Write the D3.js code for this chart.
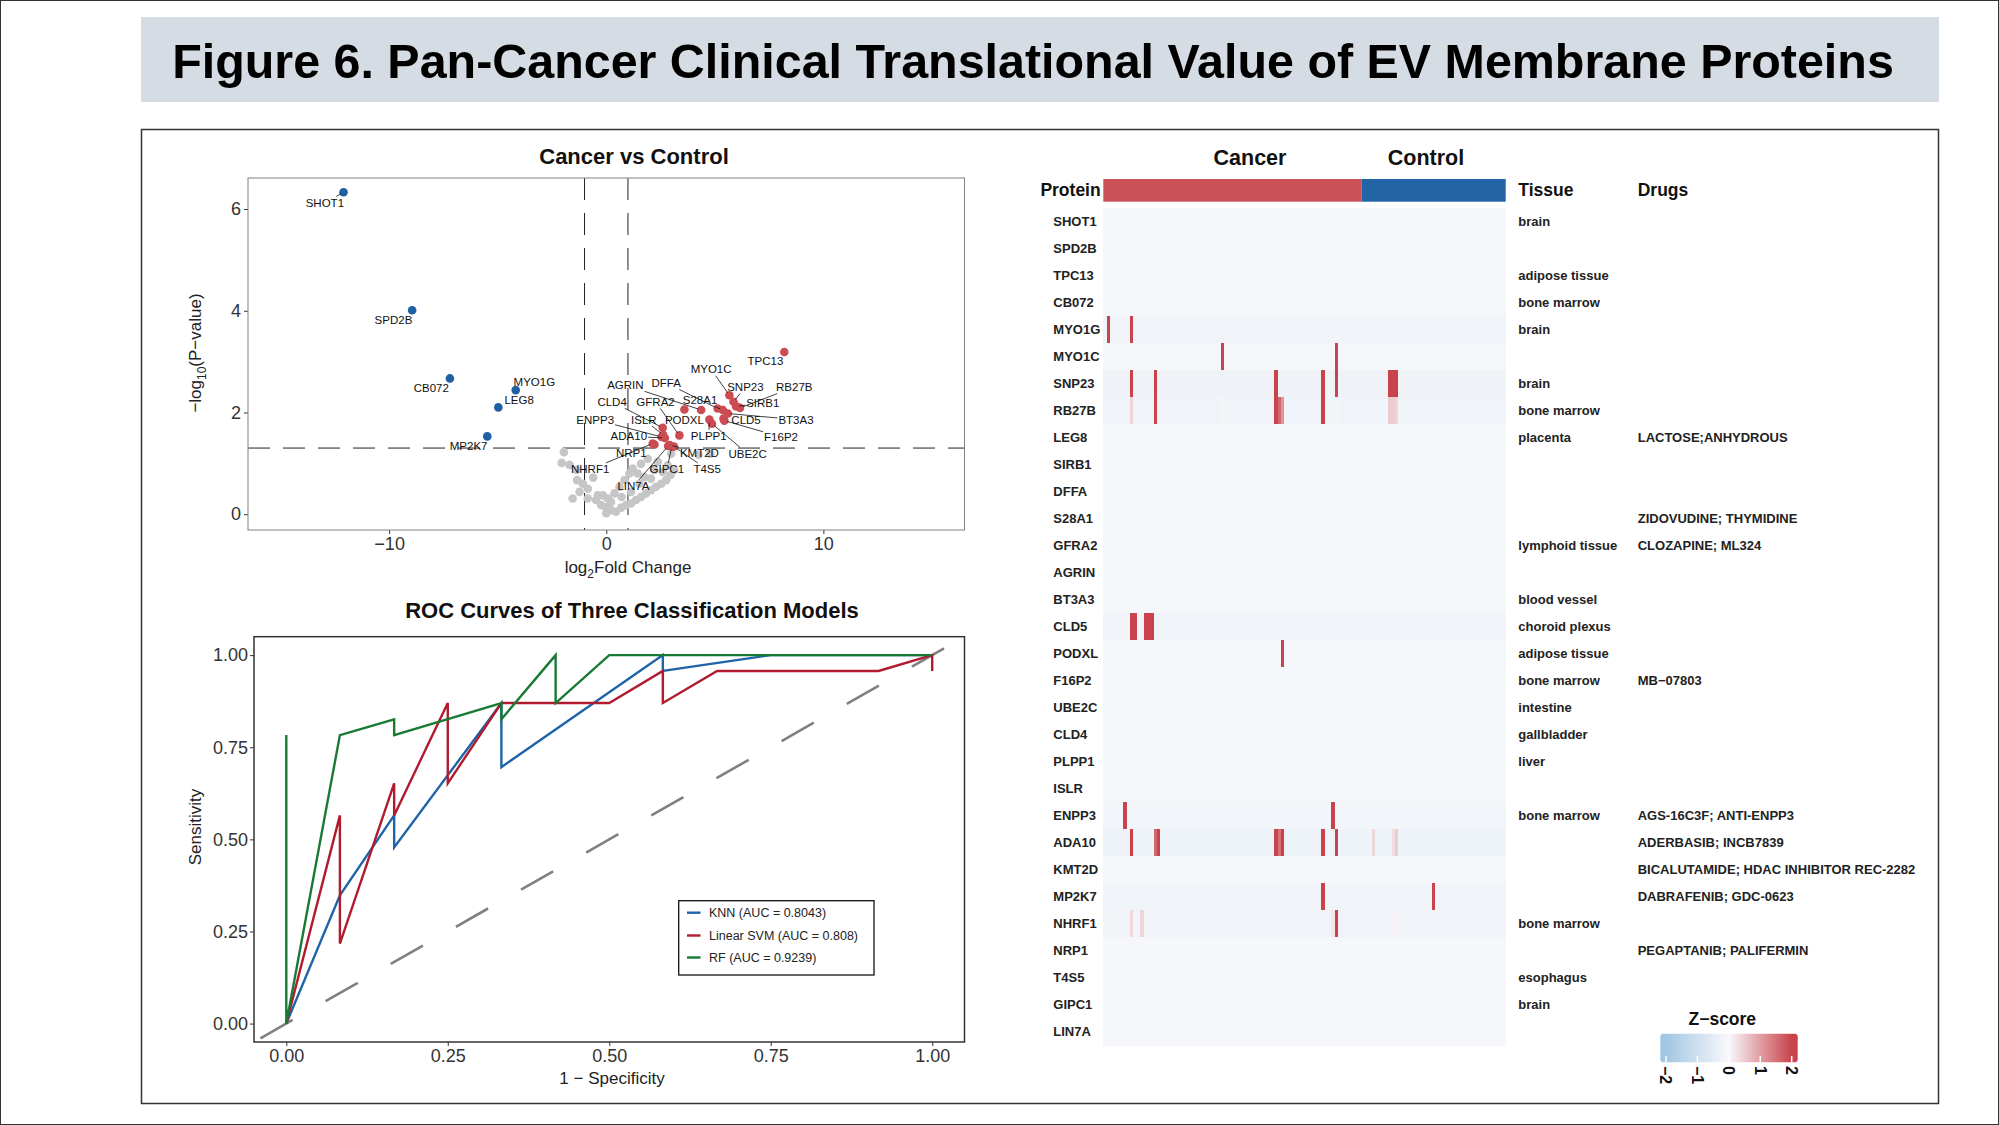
<!DOCTYPE html>
<html>
<head>
<meta charset="utf-8">
<script src="https://cdn.jsdelivr.net/npm/d3@7"></script>
<style>
  body { margin: 0; background: #fff; }
  svg { display: block; font-family: 'Liberation Sans', Arial, Helvetica, sans-serif; }
</style>
</head>
<body>
<svg width="1999" height="1125"></svg>
<script>
// ---------------- data ----------------
// volcano: significant proteins (log2 fold change, -log10 p)
const sigNames = ['SHOT1','SPD2B','CB072','MYO1G','LEG8','MP2K7','TPC13','MYO1C','SNP23','SIRB1','RB27B','S28A1',
  'DFFA','AGRIN','PODXL','BT3A3','CLD5','F16P2','PLPP1','UBE2C','CLD4','GFRA2','ISLR','ENPP3','ADA10','NHRF1',
  'NRP1','KMT2D','LIN7A','GIPC1','T4S5']
const sigFC = [-12.1,-8.94,-7.2,-4.17,-4.97,-5.48,8.2,5.67,5.86,5.98,6.16,5.37,
  5.13,4.37,3.6,5.6,5.4,5.44,4.75,4.87,2.6,3.37,2.62,2.55,2.7,2.14,
  2.22,2.92,2.85,3.02,3.12]
const sigLogP = [6.33,4.01,2.67,2.44,2.1,1.53,3.19,2.34,2.21,2.12,2.09,2.05,
  2.08,2.05,2.06,1.98,1.88,1.84,1.86,1.78,1.7,1.55,1.56,1.52,1.5,1.39,
  1.37,1.36,1.34,1.33,1.33]
// volcano: non-significant proteins
const nsFC = [-1.95,-2.05,-1.69,-1.34,-1.08,-1.23,-0.85,-0.47,-0.24,-0.01,0.22,0.45,0.69,0.91,1.14,1.37,1.6,1.83,
  2.06,2.29,2.53,2.76,2.96,3.14,2.83,2.37,1.91,1.6,1.22,1.07,0.84,0.61,0.38,0.07,-0.16,0.71,1.14,1.53,1.76,
  2.22,2.61,2.06,1.45,-1.38,-0.85,-0.39,0.22,2.99,4.25,4.8,-0.6,-1.55,0.0]
const nsLogP = [1.22,1.01,0.97,0.67,0.6,0.44,0.31,0.28,0.18,0.14,0.08,0.05,0.13,0.18,0.21,0.28,0.34,0.41,
  0.47,0.54,0.6,0.67,0.77,0.87,0.96,1.03,1.09,0.99,0.9,0.8,0.67,0.54,0.41,0.31,0.37,0.34,0.44,0.6,0.73,
  0.87,0.83,0.7,0.8,0.87,0.5,0.37,0.24,1.19,1.17,1.19,0.72,0.31,0.02]

// ROC curves (1 - specificity, sensitivity)
const knnFpr = [0,0.083,0.167,0.167,0.333,0.333,0.583,0.583,0.75,1]
const knnTpr = [0,0.348,0.565,0.478,0.87,0.696,1,0.957,1,1]
const svmFpr = [0,0.083,0.083,0.167,0.167,0.25,0.25,0.333,0.5,0.583,0.583,0.667,0.917,1,1]
const svmTpr = [0,0.565,0.217,0.652,0.565,0.87,0.652,0.87,0.87,0.957,0.87,0.957,0.957,1,0.957]
const rfFpr = [0,0,0,0.083,0.167,0.167,0.333,0.333,0.417,0.417,0.5,1]
const rfTpr = [0,0.783,0,0.783,0.826,0.783,0.87,0.826,1,0.87,1,1]
const modelNames = ['KNN (AUC = 0.8043)','Linear SVM (AUC = 0.808)','RF (AUC = 0.9239)']

// heatmap
const proteins = ['SHOT1','SPD2B','TPC13','CB072','MYO1G','MYO1C','SNP23','RB27B','LEG8','SIRB1','DFFA','S28A1',
  'GFRA2','AGRIN','BT3A3','CLD5','PODXL','F16P2','UBE2C','CLD4','PLPP1','ISLR','ENPP3','ADA10','KMT2D','MP2K7',
  'NHRF1','NRP1','T4S5','GIPC1','LIN7A']
const tissues = ['brain','','adipose tissue','bone marrow','brain','','brain','bone marrow','placenta','','','',
  'lymphoid tissue','','blood vessel','choroid plexus','adipose tissue','bone marrow','intestine','gallbladder','liver','',
  'bone marrow','','','','bone marrow','','esophagus','brain','']
const drugs = ['','','','','','','','','LACTOSE;ANHYDROUS','','','ZIDOVUDINE; THYMIDINE',
  'CLOZAPINE; ML324','','','','','MB\u221207803','','','','',
  'AGS-16C3F; ANTI-ENPP3','ADERBASIB; INCB7839','BICALUTAMIDE; HDAC INHIBITOR REC-2282','DABRAFENIB; GDC-0623','','PEGAPTANIB; PALIFERMIN','','','']
const nCancer = 77
const nControl = 43
const rowBase = [-0.06,-0.06,-0.06,-0.06,-0.2,-0.1,-0.22,-0.2,-0.06,-0.06,-0.06,-0.06,
  -0.06,-0.06,-0.06,-0.2,-0.1,-0.06,-0.06,-0.06,-0.06,-0.06,-0.15,-0.25,-0.06,-0.2,
  -0.18,-0.06,-0.06,-0.06,-0.06]
// [protein, sample index, z-score]
const hits = [
  ['MYO1G',1,2.5],['MYO1G',8,2.5],
  ['MYO1C',35,2.5],['MYO1C',69,2.5],
  ['SNP23',8,2.5],['SNP23',15,2.5],['SNP23',51,2.5],['SNP23',65,2.5],['SNP23',69,2.5],['SNP23',85,2.5],['SNP23',86,2.5],['SNP23',87,2.5],
  ['RB27B',8,0.4],['RB27B',15,2.5],['RB27B',35,0.05],['RB27B',51,2.5],['RB27B',52,1.6],['RB27B',53,1.1],['RB27B',65,2.5],['RB27B',69,0.05],
  ['RB27B',85,0.5],['RB27B',86,0.5],['RB27B',87,0.4],
  ['CLD5',8,2.5],['CLD5',9,2.5],['CLD5',12,2.5],['CLD5',13,2.5],['CLD5',14,2.5],
  ['PODXL',53,2.5],
  ['ENPP3',6,2.5],['ENPP3',68,2.5],
  ['ADA10',8,2.5],['ADA10',15,1.6],['ADA10',16,2.5],['ADA10',51,2.5],['ADA10',52,1.5],['ADA10',53,2.5],['ADA10',65,2.5],['ADA10',69,2.5],
  ['ADA10',80,0.4],['ADA10',86,0.3],['ADA10',87,0.5],
  ['MP2K7',65,2.5],['MP2K7',98,2.5],
  ['NHRF1',1,0.1],['NHRF1',8,0.35],['NHRF1',11,0.4],['NHRF1',68,0.2],['NHRF1',69,2.5],['NHRF1',86,0.1]
]
const zTicks = [-2,-1,0,1,2]

// ---------------- layout ----------------
const svg = d3.select('svg')
const width = +svg.attr('width')
const height = +svg.attr('height')

svg.append('rect').attr('width', width).attr('height', height).attr('fill', '#fff')
svg.append('rect').attr('x', 0.5).attr('y', 0.5).attr('width', width - 1).attr('height', height - 1)
  .attr('fill', 'none').attr('stroke', '#333')

// title band
svg.append('rect').attr('x', 141).attr('y', 17).attr('width', 1798).attr('height', 85).attr('fill', '#D5DCE4')
const title = svg.append('text')
  .attr('x', 1033).attr('y', 78)
  .attr('text-anchor', 'middle')
  .attr('font-family', "'Liberation Sans Narrow', 'Liberation Sans', Arial, sans-serif")
  .attr('font-size', 53).attr('font-weight', 'bold').attr('fill', '#000')
  .text('Figure 6. Pan-Cancer Clinical Translational Value of EV Membrane Proteins')
const titleW = title.node().getComputedTextLength()
if (titleW > 1722) title.attr('font-size', 53 * 1722 / titleW)

// main panel frame
svg.append('rect').attr('x', 141.5).attr('y', 129.5).attr('width', 1797).attr('height', 974)
  .attr('fill', 'none').attr('stroke', '#333').attr('stroke-width', 1.5)

const styleAxis = (g, size) => {
  g.select('.domain').remove()
  g.selectAll('.tick line').attr('stroke', '#333')
  g.selectAll('.tick text').attr('font-size', size).attr('fill', '#333').attr('font-family', null)
}

// ---------------- volcano ----------------
const vx = d3.scaleLinear().domain([-16.5, 16.5]).range([248, 964.5])
const vy = d3.scaleLinear().domain([-0.31, 6.61]).range([530, 178])
const vol = svg.append('g')

vol.append('text').attr('x', 634).attr('y', 164).attr('text-anchor', 'middle')
  .attr('font-size', 22).attr('font-weight', 'bold').attr('fill', '#111').text('Cancer vs Control')

vol.append('g').attr('transform', 'translate(248,0)')
  .call(d3.axisLeft(vy).tickValues([0, 2, 4, 6]).tickFormat(d3.format('d')).tickSize(4).tickPadding(3))
  .call(g => styleAxis(g, 18))
vol.append('g').attr('transform', 'translate(0,530)')
  .call(d3.axisBottom(vx).tickValues([-10, 0, 10]).tickFormat(d3.format('d')).tickSize(4).tickPadding(3))
  .call(g => styleAxis(g, 18))

// thresholds
const dash = '22,13'
vol.selectAll('line.vthr').data([-1, 1]).enter().append('line')
  .attr('x1', d => vx(d)).attr('x2', d => vx(d)).attr('y1', 178).attr('y2', 530)
  .attr('stroke', '#222').attr('stroke-width', 1).attr('stroke-dasharray', dash)
vol.append('line')
  .attr('x1', 248).attr('x2', 964.5).attr('y1', vy(-Math.log10(0.05))).attr('y2', vy(-Math.log10(0.05)))
  .attr('stroke', '#222').attr('stroke-width', 1).attr('stroke-dasharray', dash)

const nsData = nsFC.map((d, i) => ({ fc: d, p: nsLogP[i] }))
const sigData = sigNames.map((d, i) => ({ name: d, fc: sigFC[i], p: sigLogP[i] }))

vol.selectAll('circle.ns').data(nsData).enter().append('circle')
  .attr('cx', d => vx(d.fc)).attr('cy', d => vy(d.p)).attr('r', 4.3).attr('fill', '#C6C6C6')
vol.selectAll('circle.sig').data(sigData).enter().append('circle')
  .attr('cx', d => vx(d.fc)).attr('cy', d => vy(d.p)).attr('r', 4.3)
  .attr('fill', d => d.fc > 0 ? '#CC4C53' : '#1F5FA3')

// repelled label positions (data units)
const labelSpot = {
  SHOT1: [-12.96, 6.12], SPD2B: [-9.8, 3.82], CB072: [-8.06, 2.48], MYO1G: [-3.31, 2.6], LEG8: [-4.01, 2.24],
  MP2K7: [-6.34, 1.34], TPC13: [7.33, 3.01], MYO1C: [4.83, 2.85], SNP23: [6.41, 2.5], RB27B: [8.66, 2.5],
  SIRB1: [7.21, 2.19], DFFA: [2.76, 2.58], AGRIN: [0.88, 2.54], S28A1: [4.32, 2.24], CLD4: [0.27, 2.21],
  GFRA2: [2.27, 2.21], ENPP3: [-0.51, 1.86], ISLR: [1.73, 1.86], PODXL: [3.6, 1.86], CLD5: [6.44, 1.86],
  BT3A3: [8.74, 1.86], ADA10: [1.04, 1.53], PLPP1: [4.72, 1.53], F16P2: [8.05, 1.52], NRP1: [1.15, 1.21],
  KMT2D: [4.29, 1.21], UBE2C: [6.51, 1.19], NHRF1: [-0.74, 0.88], GIPC1: [2.79, 0.88], T4S5: [4.65, 0.88],
  LIN7A: [1.25, 0.55]
}
const labG = vol.append('g')
sigData.forEach(d => {
  const [lx, ly] = labelSpot[d.name].map((v, i) => i ? vy(v) : vx(v))
  const t = labG.append('text').attr('x', lx).attr('y', ly).attr('dy', '0.35em')
    .attr('text-anchor', 'middle').attr('font-size', 11.5).attr('fill', '#111').text(d.name)
  const hw = t.node().getComputedTextLength() / 2 + 1
  const hh = 6.5
  const px = vx(d.fc), py = vy(d.p)
  const dx = px - lx, dy = py - ly
  if (Math.abs(dx) <= hw + 4 && Math.abs(dy) <= hh + 4) return
  const s = Math.min(dx ? hw / Math.abs(dx) : Infinity, dy ? hh / Math.abs(dy) : Infinity)
  const len = Math.hypot(dx, dy)
  const e = 1 - 3 / len
  if (len * (e - s) < 5) return
  labG.append('line')
    .attr('x1', lx + dx * s).attr('y1', ly + dy * s)
    .attr('x2', lx + dx * e).attr('y2', ly + dy * e)
    .attr('stroke', '#111').attr('stroke-width', 0.8)
})

vol.append('rect').attr('x', 248).attr('y', 178).attr('width', 716.5).attr('height', 352)
  .attr('fill', 'none').attr('stroke', '#808080').attr('stroke-width', 1)

const xt = vol.append('text').attr('x', 628).attr('y', 573).attr('text-anchor', 'middle')
  .attr('font-size', 17).attr('fill', '#222')
xt.append('tspan').text('log')
xt.append('tspan').attr('font-size', 12).attr('dy', 5).text('2')
xt.append('tspan').attr('dy', -5).text('Fold Change')

const yt = vol.append('text').attr('transform', 'translate(201,353) rotate(-90)').attr('text-anchor', 'middle')
  .attr('font-size', 17).attr('fill', '#222')
yt.append('tspan').text('\u2212log')
yt.append('tspan').attr('font-size', 12).attr('dy', 5).text('10')
yt.append('tspan').attr('dy', -5).text('(P\u2212value)')

// ---------------- ROC ----------------
const rx = d3.scaleLinear().domain([-0.05, 1.05]).range([254, 964.5])
const ry = d3.scaleLinear().domain([-0.05, 1.05]).range([1042, 636.7])
const roc = svg.append('g')

roc.append('text').attr('x', 632).attr('y', 618).attr('text-anchor', 'middle')
  .attr('font-size', 22).attr('font-weight', 'bold').attr('fill', '#111')
  .text('ROC Curves of Three Classification Models')

roc.append('g').attr('transform', 'translate(254,0)')
  .call(d3.axisLeft(ry).tickValues([0, 0.25, 0.5, 0.75, 1]).tickFormat(d3.format('.2f')).tickSize(4).tickPadding(2))
  .call(g => styleAxis(g, 18))
roc.append('g').attr('transform', 'translate(0,1042)')
  .call(d3.axisBottom(rx).tickValues([0, 0.25, 0.5, 0.75, 1]).tickFormat(d3.format('.2f')).tickSize(4).tickPadding(3))
  .call(g => styleAxis(g, 18))

roc.append('line')
  .attr('x1', rx(-0.04)).attr('y1', ry(-0.04)).attr('x2', rx(1.02)).attr('y2', ry(1.02))
  .attr('stroke', '#808080').attr('stroke-width', 2.6).attr('stroke-dasharray', '37,38')

const rocColors = ['#1F63A8', '#B01C2E', '#1A7A35']
const curves = [[knnFpr, knnTpr], [svmFpr, svmTpr], [rfFpr, rfTpr]]
const rocLine = d3.line().x(d => rx(d[0])).y(d => ry(d[1]))
curves.forEach((c, i) => {
  roc.append('path')
    .datum(c[0].map((f, j) => [f, c[1][j]]))
    .attr('d', rocLine)
    .attr('fill', 'none').attr('stroke', rocColors[i]).attr('stroke-width', 2.4)
    .attr('stroke-linejoin', 'miter')
})

roc.append('rect').attr('x', 254).attr('y', 636.7).attr('width', 710.5).attr('height', 405.3)
  .attr('fill', 'none').attr('stroke', '#333').attr('stroke-width', 1.5)

// legend
const leg = roc.append('g')
leg.append('rect').attr('x', 678.7).attr('y', 900.7).attr('width', 195.3).attr('height', 74.3)
  .attr('fill', '#fff').attr('stroke', '#111').attr('stroke-width', 1.3)
const legY = [912.7, 935.5, 957.5]
modelNames.forEach((m, i) => {
  leg.append('line').attr('x1', 687).attr('x2', 700.5).attr('y1', legY[i]).attr('y2', legY[i])
    .attr('stroke', rocColors[i]).attr('stroke-width', 2.4)
  leg.append('text').attr('x', 709).attr('y', legY[i]).attr('dy', '0.35em')
    .attr('font-size', 12.5).attr('fill', '#222').text(m)
})

roc.append('text').attr('x', 612).attr('y', 1084).attr('text-anchor', 'middle')
  .attr('font-size', 17).attr('fill', '#222').text('1 \u2212 Specificity')
roc.append('text').attr('transform', 'translate(201,827) rotate(-90)').attr('text-anchor', 'middle')
  .attr('font-size', 17).attr('fill', '#222').text('Sensitivity')

// ---------------- heatmap ----------------
const nSamples = nCancer + nControl
const hx = d3.scaleBand().domain(d3.range(nSamples)).range([1103.3, 1505.7])
const hy = d3.scaleBand().domain(proteins).range([208.3, 1045.3])
const zColor = d3.scaleLinear().domain([-2, 0, 2]).range(['#A3C6E2', '#F8F9FB', '#C8434B']).clamp(true)

const matrix = proteins.map((p, r) => d3.range(nSamples).map(() => rowBase[r]))
hits.forEach(([p, s, z]) => { matrix[proteins.indexOf(p)][s] = z })
const cells = []
matrix.forEach((row, r) => row.forEach((z, s) => cells.push({ p: proteins[r], s, z })))

const hm = svg.append('g')
hm.selectAll('rect.cell').data(cells).enter().append('rect')
  .attr('x', d => hx(d.s)).attr('y', d => hy(d.p))
  .attr('width', hx.bandwidth() + 0.4).attr('height', hy.bandwidth() + 0.4)
  .attr('fill', d => zColor(d.z))
  .attr('shape-rendering', 'crispEdges')

// group annotation
hm.append('rect').attr('x', hx(0)).attr('y', 179).attr('width', hx(nCancer) - hx(0)).attr('height', 22.7)
  .attr('fill', '#CB5159')
hm.append('rect').attr('x', hx(nCancer)).attr('y', 179).attr('width', hx.range()[1] - hx(nCancer)).attr('height', 22.7)
  .attr('fill', '#2364A6')
hm.append('text').attr('x', 1250).attr('y', 165).attr('text-anchor', 'middle')
  .attr('font-size', 21.5).attr('font-weight', 'bold').attr('fill', '#111').text('Cancer')
hm.append('text').attr('x', 1426).attr('y', 165).attr('text-anchor', 'middle')
  .attr('font-size', 21.5).attr('font-weight', 'bold').attr('fill', '#111').text('Control')

const headY = 195.5
hm.append('text').attr('x', 1100.7).attr('y', headY).attr('text-anchor', 'end')
  .attr('font-size', 17.5).attr('font-weight', 'bold').attr('fill', '#111').text('Protein')
hm.append('text').attr('x', 1518.3).attr('y', headY)
  .attr('font-size', 17.5).attr('font-weight', 'bold').attr('fill', '#111').text('Tissue')
hm.append('text').attr('x', 1637.7).attr('y', headY)
  .attr('font-size', 17.5).attr('font-weight', 'bold').attr('fill', '#111').text('Drugs')

const rowText = (x, vals) => hm.selectAll(null).data(proteins).enter().append('text')
  .attr('x', x).attr('y', d => hy(d) + hy.bandwidth() / 2).attr('dy', '0.35em')
  .attr('font-size', 13).attr('font-weight', 'bold').attr('fill', '#222')
  .text((d, i) => vals[i])
rowText(1053.3, proteins)
rowText(1518.3, tissues)
rowText(1637.7, drugs)

// z-score legend
const zx = d3.scaleLinear().domain([-2, 2]).range([1666, 1791.7])
const grad = svg.append('defs').append('linearGradient').attr('id', 'zgrad')
  .attr('gradientUnits', 'userSpaceOnUse').attr('x1', zx(-2)).attr('x2', zx(2))
zTicks.forEach(v => {
  grad.append('stop').attr('offset', (v + 2) / 4).attr('stop-color', zColor(v))
})
hm.append('text').attr('x', 1722.3).attr('y', 1025).attr('text-anchor', 'middle')
  .attr('font-size', 17.5).attr('font-weight', 'bold').attr('fill', '#111').text('Z\u2212score')
hm.append('rect').attr('x', 1660.3).attr('y', 1033.7).attr('width', 137.4).attr('height', 28.6)
  .attr('rx', 3).attr('fill', 'url(#zgrad)')
hm.selectAll('line.zt').data(zTicks).enter().append('line')
  .attr('x1', d => zx(d)).attr('x2', d => zx(d)).attr('y1', 1056).attr('y2', 1062)
  .attr('stroke', '#fff').attr('stroke-width', 1.5)
hm.selectAll('text.zt').data(zTicks).enter().append('text')
  .attr('transform', d => `translate(${zx(d)},1066) rotate(90)`)
  .attr('dy', '0.35em').attr('font-size', 16).attr('font-weight', 'bold').attr('fill', '#111')
  .text(d => d3.format('d')(d))
</script>
</body>
</html>
